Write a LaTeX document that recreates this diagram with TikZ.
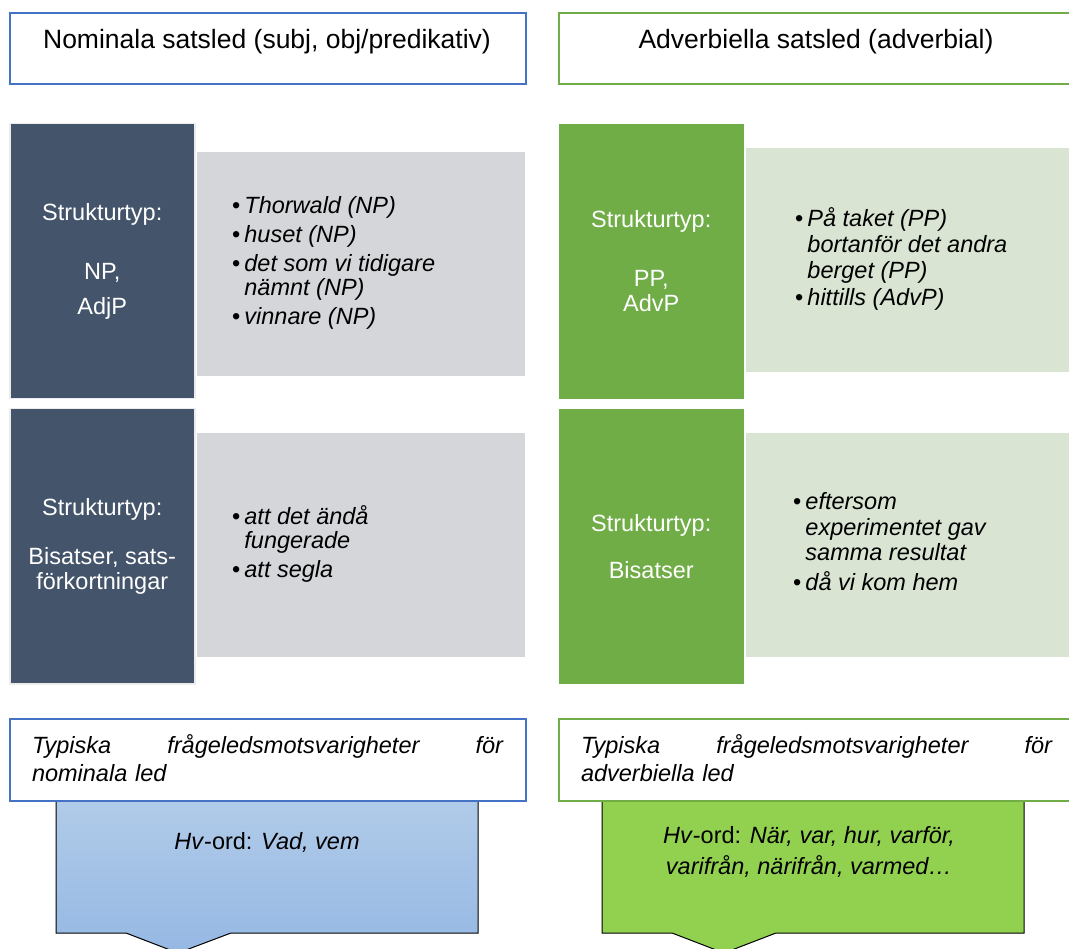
\documentclass[tikz,border=0pt]{standalone}
\usepackage{fontspec}
\setmainfont{Liberation Sans}
\usepackage{tikz}

\definecolor{nomblue}{HTML}{4472C4}
\definecolor{advgreen}{HTML}{70AD47}
\definecolor{slate}{HTML}{44546A}
\definecolor{nomgray}{HTML}{D5D6DA}
\definecolor{advpale}{HTML}{D9E4D3}
\definecolor{hvbluetop}{HTML}{B1CBE9}
\definecolor{hvbluebot}{HTML}{95B8E3}
\definecolor{hvgreen}{HTML}{92D050}

\tikzset{
    % Le cadre blanc des titres, en haut
    title_box/.style={
        draw,
        line width=2pt,
        fill=white,
        anchor=north west,
        minimum width=516pt,
        minimum height=71pt
    },
    title_text/.style={
        font=\fontsize{26.5}{30}\selectfont
    },
    % La colonne foncée "Strukturtyp"
    type_box/.style={
        anchor=north west,
        minimum width=185pt,
        minimum height=275pt,
        align=center,
        text=white,
        font=\fontsize{23.5}{24.5}\selectfont,
        line width=1.5pt
    },
    % Le bloc clair des exemples
    example_box/.style={
        anchor=north west,
        minimum width=328pt,
        minimum height=224pt
    },
    example_text/.style={
        anchor=west,
        inner sep=0pt,
        font=\fontsize{23.5}{24.5}\selectfont\itshape
    },
    % Les encadrés du bas
    head_box/.style={
        draw,
        line width=2pt,
        fill=white,
        anchor=north west,
        minimum width=516pt,
        minimum height=82pt
    },
    head_text/.style={
        text width=471pt,
        align=left,
        inner sep=0pt,
        font=\fontsize{23.5}{28}\selectfont\itshape
    },
    hv_body/.style={
        draw=black,
        line width=1pt
    },
    hv_text/.style={
        align=center,
        font=\fontsize{23.5}{31}\selectfont
    }
}

\newcommand{\bul}{\textup{\textbullet}}

\begin{document}
\begin{tikzpicture}[x=1pt, y=-1pt]

    % --- 0. Cadre de l'image (la partie droite est coupée) ---
    \useasboundingbox (0,0) rectangle (1069,949);
    \clip (0,0) rectangle (1069,949);

    % --- 1. Titres ---
    \node[title_box, draw=nomblue] (nom_title) at (9,12) {};
    \node[title_text] (nom_title_text) at (267,42) {Nominala satsled (subj, obj/predikativ)};
    \node[title_box, draw=advgreen] (adv_title) at (558,12) {};
    \node[title_text] (adv_title_text) at (816,42) {Adverbiella satsled (adverbial)};

    % --- 2. Colonne gauche : satsled nominaux ---
    \node[type_box, fill=slate, draw=gray!15] (nom_type_a) at (9,123)
        {Strukturtyp:\\[34.5pt]NP,\\[10.5pt]AdjP};
    \node[example_box, fill=nomgray] (nom_ex_a) at (197,152) {};
    \node[example_text] (nom_ex_a_text) at ([xshift=35pt]nom_ex_a.west) {%
        \begin{tabular}{@{}l@{\hspace{4pt}}l@{}}
            \bul & Thorwald (NP)\\[4.5pt]
            \bul & huset (NP)\\[4.5pt]
            \bul & det som vi tidigare\\
                 & nämnt (NP)\\[4.5pt]
            \bul & vinnare (NP)
        \end{tabular}};

    \node[type_box, fill=slate, draw=gray!15] (nom_type_b) at (9,408)
        {Strukturtyp:\\[24.5pt]Bisatser, sats-\\förkortningar};
    \node[example_box, fill=nomgray] (nom_ex_b) at (197,433) {};
    \node[example_text] (nom_ex_b_text) at ([xshift=35pt]nom_ex_b.west) {%
        \begin{tabular}{@{}l@{\hspace{4pt}}l@{}}
            \bul & att det ändå\\
                 & fungerade\\[4.5pt]
            \bul & att segla
        \end{tabular}};

    % --- 3. Colonne droite : satsled adverbiaux ---
    \node[type_box, fill=advgreen] (adv_type_a) at (558,123)
        {Strukturtyp:\\[34.5pt]PP,\\AdvP};
    \node[example_box, fill=advpale] (adv_ex_a) at (746,148) {};
    \node[example_text] (adv_ex_a_text) at ([xshift=49pt]adv_ex_a.west) {%
        \begin{tabular}{@{}l@{\hspace{4pt}}l@{}}
            \bul & På taket (PP)\\[1.5pt]
                 & bortanför det andra\\[1.5pt]
                 & berget (PP)\\[2.5pt]
            \bul & hittills (AdvP)
        \end{tabular}};

    \node[type_box, fill=advgreen] (adv_type_b) at (558,408)
        {Strukturtyp:\\[22.5pt]Bisatser};
    \node[example_box, fill=advpale] (adv_ex_b) at (746,433) {};
    \node[example_text] (adv_ex_b_text) at ([xshift=47pt]adv_ex_b.west) {%
        \begin{tabular}{@{}l@{\hspace{4pt}}l@{}}
            \bul & eftersom\\[1.5pt]
                 & experimentet gav\\
                 & samma resultat\\[3.5pt]
            \bul & då vi kom hem
        \end{tabular}};

    % --- 4. Encadrés du bas avec flèche ---
    % Le corps de la bulle d'abord, l'en-tête blanc le recouvre ensuite
    \path[hv_body, top color=hvbluetop, bottom color=hvbluebot]
        (56,800) -- (56,933) -- (126,933) -- (178,953) -- (231,933)
        -- (478,933) -- (478,800) -- cycle;
    \path[hv_body, fill=hvgreen]
        (602,800) -- (602,933) -- (672,933) -- (724,953) -- (776,933)
        -- (1024,933) -- (1024,800) -- cycle;

    \node[head_box, draw=nomblue] (nom_head) at (9,718) {};
    \node[head_text] (nom_head_text) at (267.5,758)
        {Typiska\hfill frågeledsmotsvarigheter\hfill för\\nominala led};
    \node[head_box, draw=advgreen] (adv_head) at (558,718) {};
    \node[head_text] (adv_head_text) at (816.5,758)
        {Typiska\hfill frågeledsmotsvarigheter\hfill för\\adverbiella led};

    \node[hv_text] (nom_hv) at (267,842) {\textit{Hv}-ord: \textit{Vad, vem}};
    \node[hv_text] (adv_hv) at (809,852)
        {\textit{Hv}-ord: \textit{När, var, hur, varför,}\\\textit{varifrån, närifrån, varmed…}};

\end{tikzpicture}
\end{document}
